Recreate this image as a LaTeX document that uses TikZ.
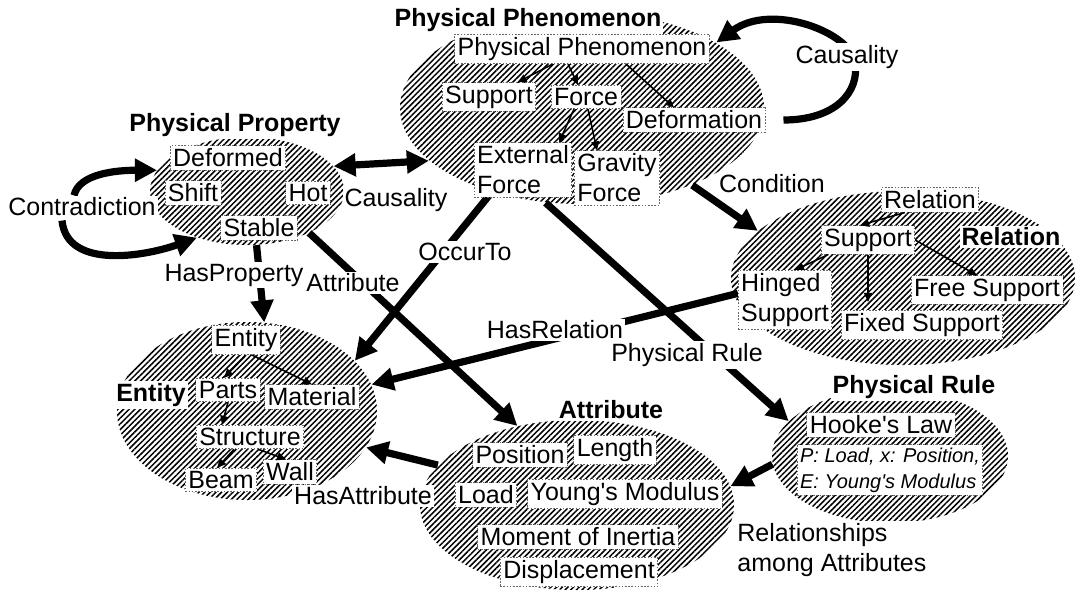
\documentclass[tikz,border=0pt]{standalone}
\usepackage{fontspec}
\setmainfont{Liberation Sans}
\usetikzlibrary{arrows.meta,calc,shapes.geometric,patterns.meta}
\pgfdeclarelayer{back}
\pgfsetlayers{back,main}
\tikzset{
  >={Triangle[length=11pt,width=11pt]},
  lbl/.style={font=\fontsize{12.5}{15}\selectfont, align=left},
  cluster/.style={ellipse, inner sep=0pt,
    pattern={Lines[angle=45,distance=2pt,line width=0.75pt]}},
  item/.style={lbl, fill=white, inner sep=1.5pt, draw=black!60,
    line width=0.4pt, dash pattern=on 0.8pt off 0.8pt},
  title/.style={lbl, fill=white, inner sep=1pt, font=\fontsize{12.5}{15}\selectfont\bfseries},
  hooke/.style={item, font=\fontsize{10}{13}\selectfont\itshape},
  linklbl/.style={lbl, fill=white, inner sep=1pt},
  link/.style={line width=3.6pt, ->},
  sub/.style={line width=0.8pt, -{Triangle[length=4.5pt,width=4pt]}},
}

\begin{document}
\begin{tikzpicture}[x=0.5pt, y=-0.5pt]
\useasboundingbox (0,0) rectangle (1077,595);
% hatched clusters
\begin{pgfonlayer}{back}
\node[cluster, minimum width=182pt, minimum height=96pt] (phen) at (582,108) {};
\node[cluster, minimum width=97pt, minimum height=54pt] (prop) at (247,191) {};
\node[cluster, minimum width=172pt, minimum height=87pt] (relat) at (903,278) {};
\node[cluster, minimum width=130pt, minimum height=89pt] (ent) at (247,411) {};
\node[cluster, minimum width=157pt, minimum height=85pt] (attr) at (577,505) {};
\node[cluster, minimum width=118pt, minimum height=67pt] (rule) at (890,456) {};
\end{pgfonlayer}
% cluster titles
\node[title] (phentitle) at (528,20) {Physical Phenomenon};
\node[title] (proptitle) at (235,125) {Physical Property};
\node[title] (reltitle) at (1011,237) {Relation};
\node[title] (enttitle) at (151,395) {Entity};
\node[title] (attrtitle) at (611,410) {Attribute};
\node[title] (ruletitle) at (914,387) {Physical Rule};
% physical phenomenon
\node[item] (ppin) at (582,49) {Physical Phenomenon};
\node[item] (psup) at (489,97) {Support};
\node[item] (force) at (586,97) {Force};
\node[item] (deform) at (694,120) {Deformation};
\node[item] (extf) at (523,170) {External\\Force};
\node[item] (gravf) at (617,178) {Gravity\\Force};
% physical property
\node[item] (deformed) at (228,158) {Deformed};
\node[item] (shift) at (193,193) {Shift};
\node[item] (hot) at (308,193) {Hot};
\node[item] (stable) at (259,228) {Stable};
% relation
\node[item] (relin) at (930,200) {Relation};
\node[item] (rsup) at (868,240) {Support};
\node[item] (hinged) at (785,300) {Hinged\\Support};
\node[item] (free) at (987,290) {Free Support};
\node[item] (fixed) at (922,325) {Fixed Support};
% entity
\node[item] (entin) at (246,340) {Entity};
\node[item] (parts) at (228,390) {Parts};
\node[item] (material) at (312,397) {Material};
\node[item] (structure) at (250,437) {Structure};
\node[item] (beam) at (221,480) {Beam};
\node[item] (wall) at (290,472) {Wall};
% attribute
\node[item] (position) at (520,455) {Position};
\node[item] (length) at (615,450) {Length};
\node[item] (load) at (486,495) {Load};
\node[item] (young) at (625,494) {Young\textquotesingle s Modulus};
\node[item] (inertia) at (578,537) {Moment of Inertia};
\node[item] (displ) at (579,572) {Displacement};
% physical rule
\node[item] (hooke) at (881,425) {Hooke\textquotesingle s Law};
\node[hooke] (hookevars) at (890,470) {P: Load, x: Position,\\E: Young\textquotesingle s Modulus};
% hierarchy inside clusters
\draw[sub] (ppin) -- (psup);
\draw[sub] ([xshift=-7pt]ppin.south) -- ([xshift=-4pt]force.north);
\draw[sub] ([xshift=22pt]ppin.south) -- ([xshift=-10pt]deform.north);
\draw[sub] ([xshift=-6pt]force.south) -- ([xshift=18pt]extf.north);
\draw[sub] ([xshift=1pt]force.south) -- ([xshift=-10pt]gravf.north);
\draw[sub] ([xshift=12pt]relin.south west) -- ([xshift=-4pt]rsup.north);
\draw[sub] ([xshift=-20pt]rsup.south) -- ([xshift=5pt]hinged.north);
\draw[sub, shorten >=4pt] (rsup.south) -- (rsup.south |- fixed.north);
\draw[sub] (rsup.east) -- ([xshift=-5pt]free.north);
\draw[sub] (entin.south) -- ([xshift=-2pt]parts.north);
\draw[sub] ([xshift=3pt]entin.south) -- (material.north);
\draw[sub] (parts.south) -- ([xshift=-14pt]structure.north);
\draw[sub] ([xshift=-8pt]structure.south) -- ([xshift=-2pt]beam.north);
\draw[sub] ([xshift=4pt]structure.south) -- ([xshift=-2pt]wall.north);
% links between clusters
\node[linklbl] (contra) at (82,207) {Contradiction};
\coordinate (loopmid) at (855,62);
\begin{pgfonlayer}{back}
\draw[link] ($(contra.north)+(-8,0)$) .. controls +(5,-22) and +(-40,0) .. (prop.167);
\draw[link] ($(contra.south)+(-20,2)$) .. controls +(5,50) and +(-50,18) .. (prop.223);
\draw[link, <->] (prop.16) -- (phen.199);
\draw[link] (prop.-80) -- (ent.79);
\draw[link] (prop.-34) -- (attr.127);
\draw[link] (phen.223) -- (ent.25);
\draw[link] (hinged.172) -- (ent.12);
\draw[link] (phen.249) -- (rule.161);
\draw[link] (phen.-35) -- (relat.162);
\draw[link] (attr.164) -- (ent.-17);
\draw[link] (rule.184) -- (attr.7.5);
\draw[link, shorten <=9pt] (deform.east) .. controls +(70,0) and +(5,30) .. (loopmid)
  .. controls +(-5,-30) and +(55,-40) .. (phen.26);
\end{pgfonlayer}
\node[linklbl] (causal) at (396,200) {Causality};
\node[linklbl] (hasprop) at (234,275) {HasProperty};
\node[linklbl] (attrlbl) at (353,283) {Attribute};
\node[linklbl] (occur) at (465,252) {OccurTo};
\node[linklbl] (hasrel) at (555,330) {HasRelation};
\node[linklbl] (rulelbl) at (687,355) {Physical Rule};
\node[linklbl] (cond) at (772,184) {Condition};
\node[linklbl] (hasattr) at (363,496) {HasAttribute};
\node[linklbl, anchor=west] (among) at (735,550) {Relationships\\among Attributes};
\node[linklbl] (causeloop) at (847,57) {Causality};
\end{tikzpicture}
\end{document}
